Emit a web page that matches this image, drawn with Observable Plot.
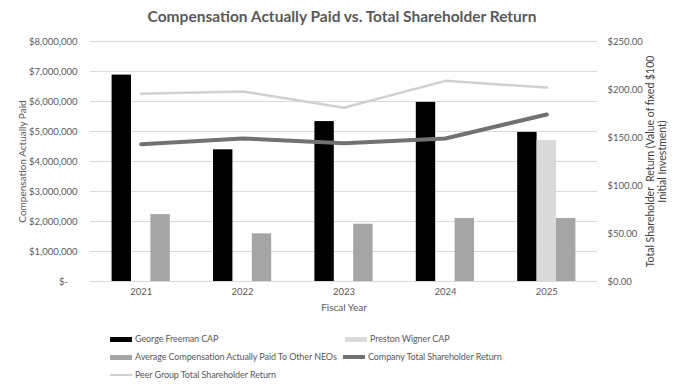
<!DOCTYPE html>
<html><head><meta charset="utf-8">
<script src="https://cdn.jsdelivr.net/npm/d3@7"></script>
<script src="https://cdn.jsdelivr.net/npm/@observablehq/plot@0.6"></script>
<style>
body{margin:0;background:#fff;font-family:Lato,"Liberation Sans",sans-serif;}
#wrap{position:relative;width:684px;height:391px;overflow:hidden;}
#title{position:absolute;left:0;width:684px;top:7px;text-align:center;font-size:15.5px;font-weight:700;color:#595959;}
#chart{position:absolute;left:0;top:30px;}
.lg{position:absolute;font-size:9px;letter-spacing:-0.1px;color:#595959;white-space:nowrap;line-height:12px;}
.sw{position:absolute;}
</style></head>
<body><div id="wrap"><div id="title">Compensation Actually Paid vs. Total Shareholder Return</div><div id="chart"></div></div>
<script>
const years = ["2021","2022","2023","2024","2025"];
const georgeCAP = [6880000, 4390000, 5330000, 5970000, 4970000];
const prestonCAP = [null, null, null, null, 4700000];
const otherNEOsCAP = [2230000, 1590000, 1910000, 2100000, 2100000];
const companyTSR = [143, 149, 144, 149, 174];
const peerTSR = [195.5, 198, 181, 209, 202];
const leftTicks = [0,1000000,2000000,3000000,4000000,5000000,6000000,7000000,8000000];
const rightTicks = [0,50,100,150,200,250];
const seriesNames = ["George Freeman CAP","Preston Wigner CAP","Average Compensation Actually Paid To Other NEOs","Company Total Shareholder Return","Peer Group Total Shareholder Return"];
const colors = ["#000000","#d9d9d9","#a5a5a5","#737070","#d0d0d0"];

const W = 684, H = 290, mL = 90, mR = 87, mT = 11, mB = 39;
const k = 8000000 / 250;
const bw = (W - mL - mR) / years.length;
const barW = 19.4;
const off = [bw/2 - 1.5*barW, bw/2 - 0.5*barW, bw/2 + 0.5*barW];
const ins = i => ({insetLeft: off[i], insetRight: bw - off[i] - barW});

const rows = s => years.map((y,i)=>({year:y, v:s[i]})).filter(d=>d.v!=null);

const chart = Plot.plot({
  width: W, height: H, marginLeft: mL, marginRight: mR, marginTop: mT, marginBottom: mB,
  style: {fontFamily: "Lato, sans-serif", fontSize: "9.5px", color: "#595959", background: "#fff"},
  x: {type: "band", domain: years, padding: 0, round: false},
  y: {domain: [0, 8000000]},
  marks: [
    Plot.ruleY(leftTicks, {stroke: "#d9d9d9", strokeWidth: 1}),
    Plot.axisY(leftTicks, {anchor: "left", tickSize: 0, tickPadding: 13, label: null,
      tickFormat: d => d === 0 ? "$-\u2002\u2002" : "$" + d3.format(",")(d)}),
    Plot.axisY(rightTicks.map(v => v * k), {anchor: "right", tickSize: 0, tickPadding: 10, label: null,
      tickFormat: d => "$" + (d / k).toFixed(2)}),
    Plot.axisX({tickSize: 0, tickPadding: 7, label: null}),
    Plot.barY(rows(georgeCAP), {x: "year", y: "v", fill: colors[0], ...ins(0)}),
    Plot.barY(rows(prestonCAP), {x: "year", y: "v", fill: colors[1], ...ins(1)}),
    Plot.barY(rows(otherNEOsCAP), {x: "year", y: "v", fill: colors[2], ...ins(2)}),
    Plot.line(rows(peerTSR), {x: "year", y: d => d.v * k, stroke: colors[4], strokeWidth: 2.5}),
    Plot.line(rows(companyTSR), {x: "year", y: d => d.v * k, stroke: colors[3], strokeWidth: 4}),
    Plot.text(["Compensation Actually Paid"], {frameAnchor: "left", textAnchor: "middle", dx: -68, rotate: -90, fontSize: 10, fill: "#595959"}),
    Plot.text(["Total Shareholder  Return (Value of fixed $100\nInitial Investment)"], {frameAnchor: "right", textAnchor: "middle", dx: 59, rotate: -90, fontSize: 10.5, fill: "#404040", lineHeight: 1.15}),
    Plot.text(["Fiscal Year"], {frameAnchor: "bottom", dy: 29, fontSize: 10, fill: "#595959"})
  ]
});
document.getElementById("chart").appendChild(chart);

// legend
const wrap = document.getElementById("wrap");
const legendPos = [
  {x:110, y:339, type:"bar"}, {x:345, y:339, type:"bar"},
  {x:110, y:357, type:"bar"}, {x:343, y:357, type:"line", h:3.5},
  {x:110, y:375, type:"line", h:2}
];
seriesNames.forEach((n,i)=>{
  const p = legendPos[i];
  const sw = document.createElement("div");
  sw.className = "sw";
  const h = p.type === "bar" ? 5 : p.h;
  sw.style.cssText = `left:${p.x}px;top:${p.y - h/2}px;width:22px;height:${h}px;background:${colors[i]}`;
  wrap.appendChild(sw);
  const t = document.createElement("div");
  t.className = "lg";
  t.textContent = n;
  t.style.left = (p.x + 25) + "px";
  t.style.top = (p.y - 6) + "px";
  wrap.appendChild(t);
});
</script></body></html>
